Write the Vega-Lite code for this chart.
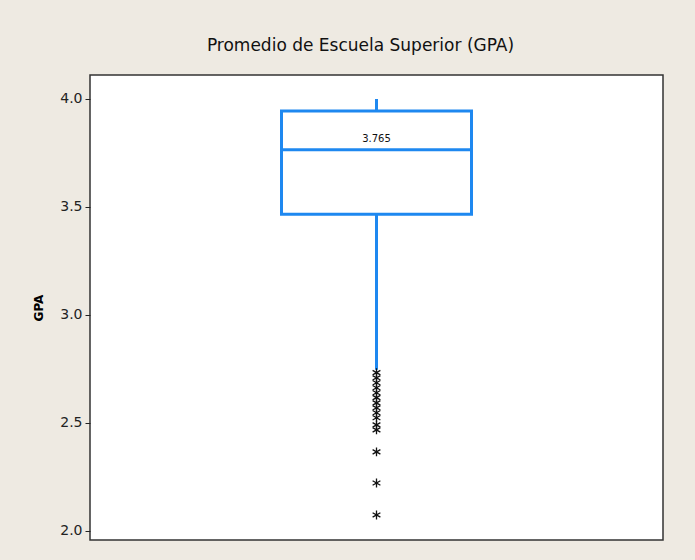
{
  "$schema": "https://vega.github.io/schema/vega-lite/v6.json",
  "width": 573,
  "height": 465,
  "autosize": {"type": "none"},
  "padding": {"left": 90, "top": 75, "right": 32, "bottom": 20},
  "background": "#EEEAE2",
  "config": {
    "view": {"fill": "white", "stroke": "#333333", "strokeWidth": 1.5},
    "font": "DejaVu Sans"
  },
  "title": {
    "text": "Promedio de Escuela Superior (GPA)",
    "fontSize": 17,
    "fontWeight": "normal",
    "color": "#111111",
    "font": "DejaVu Sans",
    "offset": 20,
    "anchor": "middle",
    "dx": -16
  },
  "datasets": {
    "box": [
      {"var": "GPA", "lower": 2.746, "q1": 3.466, "median": 3.765, "q3": 3.944, "upper": 4.0}
    ],
    "outliers": [
      {"var": "GPA", "gpa": 2.733},
      {"var": "GPA", "gpa": 2.709},
      {"var": "GPA", "gpa": 2.686},
      {"var": "GPA", "gpa": 2.663},
      {"var": "GPA", "gpa": 2.640},
      {"var": "GPA", "gpa": 2.617},
      {"var": "GPA", "gpa": 2.593},
      {"var": "GPA", "gpa": 2.570},
      {"var": "GPA", "gpa": 2.547},
      {"var": "GPA", "gpa": 2.524},
      {"var": "GPA", "gpa": 2.491},
      {"var": "GPA", "gpa": 2.468},
      {"var": "GPA", "gpa": 2.366},
      {"var": "GPA", "gpa": 2.222},
      {"var": "GPA", "gpa": 2.074}
    ]
  },
  "encoding": {
    "x": {
      "field": "var",
      "type": "nominal",
      "axis": null,
      "scale": {"paddingInner": 0, "paddingOuter": 0}
    }
  },
  "layer": [
    {
      "data": {"name": "box"},
      "mark": {"type": "rule", "color": "#1E88F0", "strokeWidth": 3},
      "encoding": {
        "y": {
          "field": "lower",
          "type": "quantitative",
          "scale": {"domain": [1.958, 4.111], "nice": false, "zero": false},
          "axis": {
            "values": [2, 2.5, 3, 3.5, 4],
            "format": ".1f",
            "labelFontSize": 14,
            "labelColor": "#222222",
            "labelFont": "DejaVu Sans",
            "labelPadding": 3,
            "tickColor": "#222222",
            "tickSize": 5,
            "tickWidth": 1,
            "domain": false,
            "grid": false,
            "title": "GPA",
            "titleFontSize": 12,
            "titleFontWeight": "bold",
            "titleColor": "#000000",
            "titlePadding": 14
          }
        },
        "y2": {"field": "upper"}
      }
    },
    {
      "data": {"name": "box"},
      "mark": {"type": "bar", "size": 190, "fill": "white", "stroke": "#1E88F0", "strokeWidth": 3},
      "encoding": {
        "y": {"field": "q1", "type": "quantitative"},
        "y2": {"field": "q3"}
      }
    },
    {
      "data": {"name": "box"},
      "mark": {"type": "tick", "size": 190, "thickness": 3, "color": "#1E88F0", "opacity": 1},
      "encoding": {
        "y": {"field": "median", "type": "quantitative"}
      }
    },
    {
      "data": {"name": "box"},
      "mark": {"type": "text", "fontSize": 10, "dy": -11, "color": "#111111", "font": "DejaVu Sans"},
      "encoding": {
        "y": {"field": "median", "type": "quantitative"},
        "text": {"field": "median", "type": "quantitative", "format": ".3f"}
      }
    },
    {
      "data": {"name": "outliers"},
      "mark": {
        "type": "point",
        "shape": "M0,-1L0,1M-0.87,-0.5L0.87,0.5M-0.87,0.5L0.87,-0.5",
        "size": 80,
        "filled": false,
        "stroke": "#111111",
        "strokeWidth": 1.3,
        "opacity": 1
      },
      "encoding": {
        "y": {"field": "gpa", "type": "quantitative"}
      }
    }
  ]
}
